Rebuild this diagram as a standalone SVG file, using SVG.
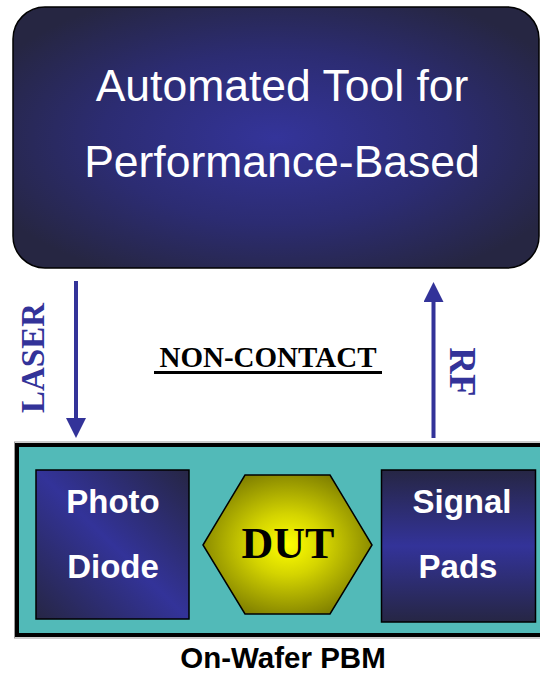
<svg xmlns="http://www.w3.org/2000/svg" width="540" height="673" viewBox="0 0 540 673">
<defs>
<radialGradient id="gTop" cx="0.5" cy="0.5" r="0.6">
<stop offset="0" stop-color="#34349a"/>
<stop offset="0.55" stop-color="#2c2c72"/>
<stop offset="1" stop-color="#262642"/>
</radialGradient>
<linearGradient id="gPhoto" x1="1" y1="0" x2="0" y2="1">
<stop offset="0" stop-color="#262644"/>
<stop offset="0.5" stop-color="#333399"/>
<stop offset="1" stop-color="#262644"/>
</linearGradient>
<linearGradient id="gSignal" x1="0" y1="0" x2="0" y2="1">
<stop offset="0" stop-color="#262644"/>
<stop offset="0.5" stop-color="#333399"/>
<stop offset="1" stop-color="#262644"/>
</linearGradient>
<radialGradient id="gDut" cx="0.5" cy="0.5" r="0.55">
<stop offset="0" stop-color="#ffff00"/>
<stop offset="0.4" stop-color="#d4d400"/>
<stop offset="1" stop-color="#7f7f00"/>
</radialGradient>
<marker id="ah" markerWidth="5" markerHeight="5" refX="0" refY="2.5" orient="auto" markerUnits="strokeWidth">
<path d="M0,0 L5,2.5 L0,5 Z" fill="#333399"/>
</marker>
<style>
.sans{font-family:"Liberation Sans",Arial,sans-serif;}
.serif{font-family:"Liberation Serif","Times New Roman",serif;font-weight:bold;}
.wb{fill:#ffffff;font-weight:bold;font-size:33px;text-anchor:middle;}
.blue{fill:#333399;}
.box{stroke:#000;stroke-width:1.5;}
.link{stroke:#1c4040;stroke-width:1.5;fill:none;}
.arrow{stroke:#333399;stroke-width:4;fill:none;}
</style>
</defs>

<g id="tool">
<rect x="13" y="7" width="526" height="261" rx="32" ry="32" fill="url(#gTop)" stroke="#000" stroke-width="1.5"/>
<text class="sans" x="282" y="101" font-size="44.5" fill="#ffffff" text-anchor="middle">Automated Tool for</text>
<text class="sans" x="282" y="177" font-size="44.5" fill="#ffffff" text-anchor="middle">Performance-Based</text>
</g>

<g id="connectors">
<line class="arrow" x1="76" y1="281" x2="76" y2="418" marker-end="url(#ah)"/>
<line class="arrow" x1="433.5" y1="438" x2="433.5" y2="302" marker-end="url(#ah)"/>
<line class="link" x1="189" y1="545" x2="203" y2="545"/>
<line class="link" x1="372" y1="545" x2="382" y2="545"/>
</g>

<g id="laser-label">
<text class="serif blue" transform="translate(44,358) rotate(-90)" font-size="33" text-anchor="middle">LASER</text>
</g>
<g id="rf-label">
<text class="serif blue" transform="translate(450,372) rotate(90)" font-size="37" text-anchor="middle">RF</text>
</g>
<g id="noncontact-label">
<text class="serif" x="268" y="367" font-size="29" fill="#000" text-anchor="middle">NON-CONTACT</text>
<rect x="154" y="371" width="228" height="3" fill="#000"/>
</g>

<g id="wafer">
<rect x="14.5" y="442" width="540" height="196" fill="none" stroke="#9a9a9a" stroke-width="1"/>
<rect x="17" y="445" width="540" height="190" fill="#52bab8" stroke="#000" stroke-width="4"/>
</g>

<g id="photodiode">
<rect class="box" x="36" y="470" width="153" height="149" fill="url(#gPhoto)"/>
<text class="sans wb" x="113" y="513">Photo</text>
<text class="sans wb" x="113" y="578">Diode</text>
</g>

<g id="dut">
<polygon class="box" points="203,545 245,475 330,475 372,545 330,614 245,614" fill="url(#gDut)"/>
<text class="serif" x="288" y="558" font-size="44" fill="#000" text-anchor="middle">DUT</text>
</g>

<g id="signalpads">
<rect class="box" x="381.5" y="470" width="154" height="152" fill="url(#gSignal)"/>
<text class="sans wb" x="462" y="513">Signal</text>
<text class="sans wb" x="458" y="578">Pads</text>
</g>

<g id="caption">
<text class="sans" x="283" y="668" font-size="29.5" font-weight="bold" fill="#000" text-anchor="middle">On-Wafer PBM</text>
</g>
</svg>
